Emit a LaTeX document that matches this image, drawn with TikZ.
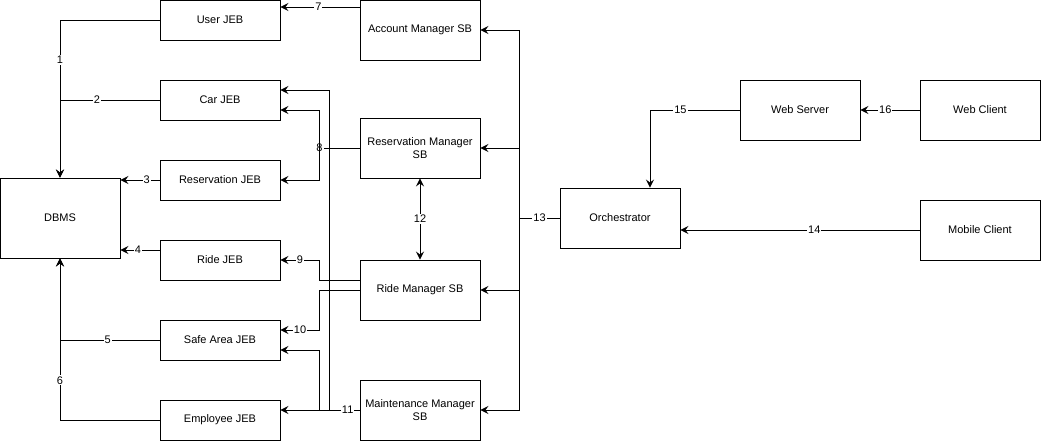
\documentclass[tikz,border=0pt]{standalone}
\usepackage{fontspec}
\setmainfont{Liberation Sans}
\usetikzlibrary{arrows.meta}
\begin{document}
\begin{tikzpicture}[x=1pt,y=-1pt,
  font=\fontsize{11}{13}\selectfont,
  box/.style={draw,line width=0.9pt,minimum width=120pt,minimum height=#1,inner sep=0pt,align=center},
  box/.default=40pt,
  conn/.style={line width=0.9pt},
  tip/.style={},
  arr/.style={conn,-{Stealth[length=8pt,width=8pt,inset=3pt]}},
  darr/.style={conn,{Stealth[length=8pt,width=8pt,inset=3pt]}-{Stealth[length=8pt,width=8pt,inset=3pt]}},
  lbl/.style={fill=white,inner sep=1pt,font=\fontsize{11}{13}\selectfont}]
\useasboundingbox (0,0) rectangle (1042,442);
% JEB column
\node[box] (user) at (220,20) {User JEB};
\node[box] (car) at (220,100) {Car JEB};
\node[box] (resj) at (220,180) {Reservation JEB};
\node[box] (ride) at (220,260) {Ride JEB};
\node[box] (safe) at (220,340) {Safe Area JEB};
\node[box] (emp) at (220,420) {Employee JEB};
\node[box=80pt] (dbms) at (60,218) {DBMS};
% SB column
\node[box=60pt] (acct) at (420,30) {Account Manager SB};
\node[box=60pt] (resm) at (420,148) {Reservation Manager\\SB};
\node[box=60pt] (ridem) at (420,290) {Ride Manager SB};
\node[box=60pt] (maint) at (420,410) {Maintenance Manager\\SB};
% right side
\node[box=60pt] (orch) at (620,218) {Orchestrator};
\node[box=60pt] (websrv) at (800,110) {Web Server};
\node[box=60pt] (webcl) at (980,110) {Web Client};
\node[box=60pt] (mob) at (980,230) {Mobile Client};
% JEB -> DBMS
\draw[arr] (user.west) -| (dbms.north) node[lbl,pos=0.627] {1};
\draw[arr] (car.west) -| (dbms.north) node[lbl,pos=0.315] {2};
\draw[arr] (resj.west) -- (resj.west -| dbms.east) node[lbl,pos=0.33] {3};
\draw[arr] ([yshift=10pt]ride.west) -- ([yshift=10pt]ride.west -| dbms.east) node[lbl,pos=0.55] {4};
\draw[arr] (safe.west) -| (dbms.south) node[lbl,pos=0.26] {5};
\draw[arr] (emp.west) -| (dbms.south) node[lbl,pos=0.623] {6};
% SB -> JEB
\draw[arr] ([yshift=23pt]acct.west) -- ([yshift=23pt]acct.west -| user.east) node[lbl,pos=0.52] {7};
\coordinate (j8) at ([xshift=-40pt]resm.west);
\draw[conn] (resm.west) -- (j8) node[lbl,pos=1] {8};
\draw[arr] (j8) |- ([yshift=-10pt]car.east);
\draw[arr] (j8) |- (resj.east);
\draw[arr] ([yshift=10pt]ridem.west) -- ++(-40,0) |- (ride.east) node[lbl,pos=0.75] {9};
\draw[arr] (ridem.west) -- ++(-40,0) |- ([yshift=10pt]safe.east) node[lbl,pos=0.75] {10};
\coordinate (j11a) at ([xshift=-40pt]maint.west);
\coordinate (j11b) at ([xshift=-30pt]maint.west);
\draw[arr] (maint.west) -- ([yshift=10pt]emp.east) node[lbl,pos=0.15] {11};
\draw[arr] (j11a) |- ([yshift=-10pt]safe.east);
\draw[arr] (j11b) |- ([yshift=10pt]car.east);
\draw[darr] (resm.south) -- (ridem.north) node[lbl,midway] {12};
% Orchestrator -> SB
\coordinate (j13) at ([xshift=-40pt]orch.west);
\draw[conn] (orch.west) -- (j13) node[lbl,pos=0.5] {13};
\draw[arr] (j13) |- (acct.east);
\draw[arr] (j13) |- (resm.east);
\draw[arr] (j13) |- (ridem.east);
\draw[arr] (j13) |- (maint.east);
% clients
\draw[arr] (mob.west) -- (mob.west -| orch.east) node[lbl,pos=0.44] {14};
\draw[arr] (websrv.west) -| ([xshift=30pt]orch.north) node[lbl,pos=0.33] {15};
\draw[arr] (webcl.west) -- (websrv.east) node[lbl,pos=0.58] {16};
\end{tikzpicture}
\end{document}
